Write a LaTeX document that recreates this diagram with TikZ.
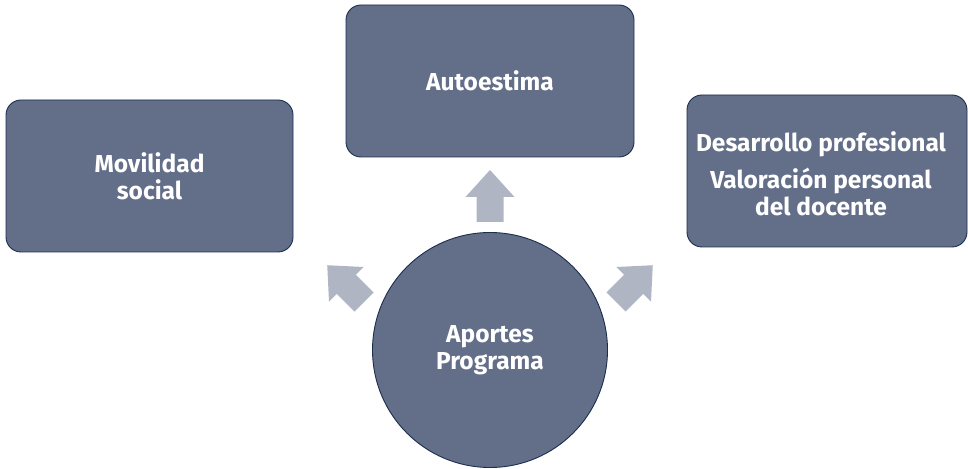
\documentclass[tikz,border=0pt]{standalone}
\usepackage{fontspec}
\setmainfont{Fira Sans}
\definecolor{boxfill}{HTML}{636E88}
\definecolor{boxline}{HTML}{1B2E4E}
\definecolor{arrowfill}{HTML}{B0B5C3}
\begin{document}
\begin{tikzpicture}[x=1pt,y=1pt,
  lbl/.style={text=white, font=\bfseries\fontsize{24.5}{27}\selectfont, align=center, inner sep=0pt},
  box/.style={draw=boxline, line width=0.9pt, fill=boxfill, rounded corners=15pt, lbl},
  hub/.style={draw=boxline, line width=0.9pt, fill=boxfill, circle, minimum size=235pt, lbl},
  blockarrow/.pic={\fill[arrowfill] (-13.5,0) -- (-13.5,25) -- (-24.5,25) -- (0,52) -- (24.5,25) -- (13.5,25) -- (13.5,0) -- cycle;}
]
\useasboundingbox (0,0) rectangle (968,468);
\node[box, minimum width=288pt, minimum height=152pt] (auto) at (490,387) {Autoestima};
\node[box, minimum width=287pt, minimum height=152pt] (movil) at (149.5,292) {Movilidad\\social};
\node[box, minimum width=280pt, minimum height=152pt] (desa) at (827,297) {};
\node[lbl] (desatext) at (821,294) {Desarrollo profesional\\[10pt]Valoración personal\\del docente};
\node[hub] (apor) at (490,118) {Aportes\\Programa};
\pic at (490,246) {blockarrow};
\pic[rotate=45] at (364,166) {blockarrow};
\pic[rotate=-45] at (616,166) {blockarrow};
\end{tikzpicture}
\end{document}
